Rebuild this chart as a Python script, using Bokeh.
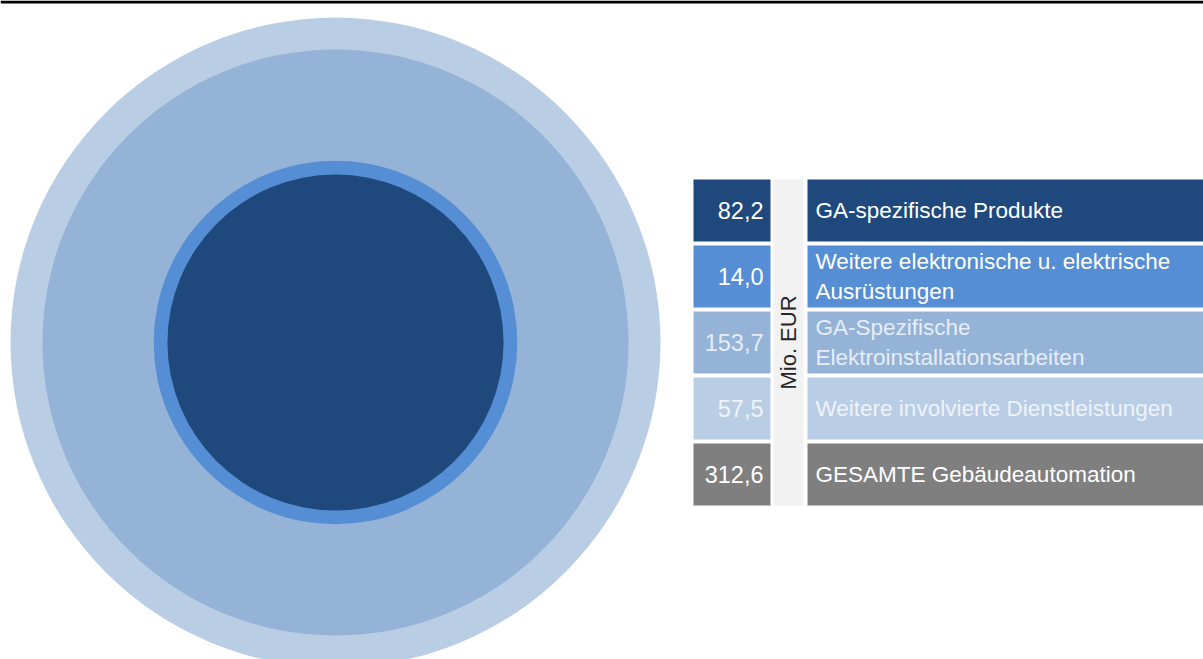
import numpy as np
from bokeh.plotting import figure
from bokeh.models import Range1d
from bokeh.core.properties import value
from bokeh.embed import file_html
from bokeh.resources import INLINE

# ---- data ----
categories = [
    "GA-spezifische Produkte",
    "Weitere elektronische u. elektrische\nAusrüstungen",
    "GA-Spezifische\nElektroinstallationsarbeiten",
    "Weitere involvierte Dienstleistungen",
]
values = [82.2, 14.0, 153.7, 57.5]
total_label = "GESAMTE Gebäudeautomation"
total_value = 312.6
unit_label = "Mio. EUR"

colors = ["#1F497D", "#558ED5", "#95B3D7", "#B9CDE5"]
text_colors = ["#FFFFFF", "#FFFFFF", "#E6EDF6", "#EEF3F9"]
total_color = "#7F7F7F"

W, H = 1203, 659
FONT = value("Liberation Sans")

p = figure(width=W, height=H, x_range=Range1d(0, W), y_range=Range1d(H, 0),
           output_backend="svg", toolbar_location=None, min_border=0,
           outline_line_color=None)
p.axis.visible = False
p.grid.visible = False
p.background_fill_color = "white"
p.border_fill_color = "white"

# top rule
p.quad(left=[0], right=[W], top=[0], bottom=[3], fill_color="black", line_color=None)

# ---- concentric circles: area proportional to cumulative value ----
cum = np.cumsum(values)
R_outer = 325.0
radii = R_outer * np.sqrt(cum / cum[-1])
cx, cy = 335, 342
for r, c in zip(radii[::-1], colors[::-1]):
    p.circle(x=[cx], y=[cy], radius=[r], fill_color=c, line_color=None)

# ---- table ----
row_top = 179
row_h = 62
gap = 4
c1l, c1r = 693, 770
c2l, c2r = 773, 803
c3l, c3r = 807, 1203

all_vals = values + [total_value]
all_labels = categories + [total_label]
all_cols = colors + [total_color]
all_tcols = text_colors + ["#FFFFFF"]

tops = [row_top + i * (row_h + gap) for i in range(len(all_vals))]
bots = [t + row_h for t in tops]
mids = [(t + b) / 2 for t, b in zip(tops, bots)]

p.quad(left=[c1l] * 5, right=[c1r] * 5, top=tops, bottom=bots,
       fill_color=all_cols, line_color=None)
p.quad(left=[c3l] * 5, right=[c3r] * 5, top=tops, bottom=bots,
       fill_color=all_cols, line_color=None)
p.quad(left=[c2l], right=[c2r], top=[tops[0]], bottom=[bots[-1]],
       fill_color="#F2F2F2", line_color=None)

val_txt = [f"{v:.1f}".replace(".", ",") for v in all_vals]
p.text(x=[c1r - 7] * 5, y=mids, text=val_txt, text_align="right",
       text_baseline="middle", text_font=FONT, text_font_size="23.5px",
       text_color=all_tcols)
p.text(x=[c3l + 8] * 5, y=mids, text=all_labels, text_align="left",
       text_baseline="middle", text_font=FONT, text_font_size="22.5px",
       text_color=all_tcols, text_line_height=1.22)
p.text(x=[(c2l + c2r) / 2], y=[(tops[0] + bots[-1]) / 2], text=[unit_label],
       angle=np.pi / 2, text_align="center", text_baseline="middle",
       text_font=FONT, text_font_size="22px", text_color="#262626")

open("out.html", "w").write(file_html(p, INLINE))
